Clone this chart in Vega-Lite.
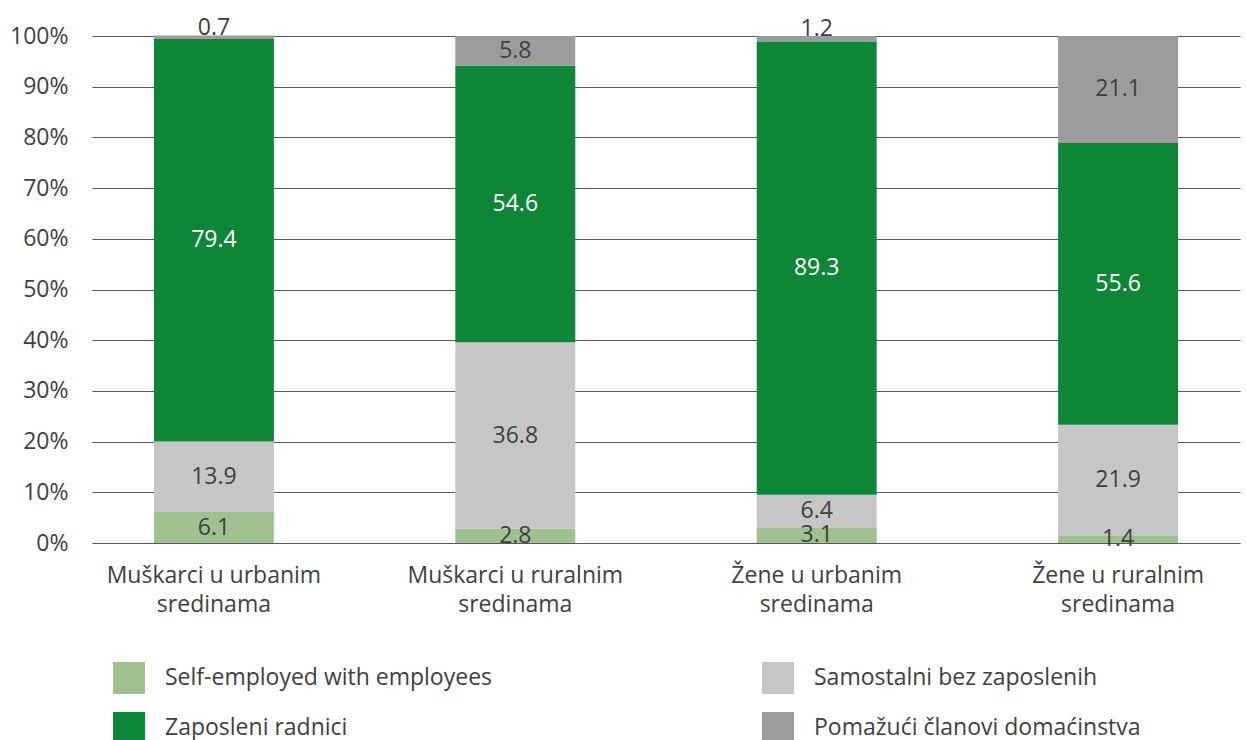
{
  "$schema": "https://vega.github.io/schema/vega-lite/v6.json",
  "width": 1148,
  "height": 507,
  "autosize": {"type": "none"},
  "padding": {"left": 92, "top": 36, "right": 6, "bottom": 197},
  "config": {"font": "Open Sans", "view": {"stroke": null}},
  "data": {
    "values": [
      {"group": "Muškarci u urbanim sredinama", "type": "Self-employed with employees", "value": 6.1},
      {"group": "Muškarci u urbanim sredinama", "type": "Samostalni bez zaposlenih", "value": 13.9},
      {"group": "Muškarci u urbanim sredinama", "type": "Zaposleni radnici", "value": 79.4},
      {"group": "Muškarci u urbanim sredinama", "type": "Pomažući članovi domaćinstva", "value": 0.7},
      {"group": "Muškarci u ruralnim sredinama", "type": "Self-employed with employees", "value": 2.8},
      {"group": "Muškarci u ruralnim sredinama", "type": "Samostalni bez zaposlenih", "value": 36.8},
      {"group": "Muškarci u ruralnim sredinama", "type": "Zaposleni radnici", "value": 54.6},
      {"group": "Muškarci u ruralnim sredinama", "type": "Pomažući članovi domaćinstva", "value": 5.8},
      {"group": "Žene u urbanim sredinama", "type": "Self-employed with employees", "value": 3.1},
      {"group": "Žene u urbanim sredinama", "type": "Samostalni bez zaposlenih", "value": 6.4},
      {"group": "Žene u urbanim sredinama", "type": "Zaposleni radnici", "value": 89.3},
      {"group": "Žene u urbanim sredinama", "type": "Pomažući članovi domaćinstva", "value": 1.2},
      {"group": "Žene u ruralnim sredinama", "type": "Self-employed with employees", "value": 1.4},
      {"group": "Žene u ruralnim sredinama", "type": "Samostalni bez zaposlenih", "value": 21.9},
      {"group": "Žene u ruralnim sredinama", "type": "Zaposleni radnici", "value": 55.6},
      {"group": "Žene u ruralnim sredinama", "type": "Pomažući članovi domaćinstva", "value": 21.1}
    ]
  },
  "transform": [
    {"calculate": "indexof(['Self-employed with employees','Samostalni bez zaposlenih','Zaposleni radnici','Pomažući članovi domaćinstva'], datum.type)", "as": "ord"},
    {"stack": "value", "groupby": ["group"], "sort": [{"field": "ord", "order": "ascending"}], "as": ["y0", "y1"]},
    {"calculate": "(datum.y0 + datum.y1) / 2", "as": "ymid"}
  ],
  "encoding": {
    "x": {
      "field": "group",
      "type": "nominal",
      "sort": null,
      "scale": {"paddingInner": 0.602, "paddingOuter": 0.2055},
      "axis": {
        "title": null,
        "labelAngle": 0,
        "labelFontSize": 23,
        "labelColor": "#404040",
        "labelLineHeight": 29,
        "labelPadding": 21,
        "labelLimit": 400,
        "domain": false,
        "ticks": false,
        "tickSize": 0,
        "labelExpr": "[replace(datum.label, ' sredinama', ''), 'sredinama']"
      }
    }
  },
  "layer": [
    {
      "mark": {"type": "bar"},
      "encoding": {
        "y": {
          "field": "y0",
          "type": "quantitative",
          "scale": {"domain": [0, 100], "nice": false},
          "axis": {
            "title": null,
            "values": [0, 10, 20, 30, 40, 50, 60, 70, 80, 90, 100],
            "labelExpr": "datum.value + '%'",
            "grid": true,
            "gridColor": "#595959",
            "gridWidth": 1.2,
            "domain": false,
            "ticks": false,
            "tickSize": 0,
            "labelFontSize": 23,
            "labelColor": "#404040",
            "labelPadding": 24
          }
        },
        "y2": {"field": "y1"},
        "color": {
          "field": "type",
          "type": "nominal",
          "scale": {
            "domain": ["Self-employed with employees", "Zaposleni radnici", "Samostalni bez zaposlenih", "Pomažući članovi domaćinstva"],
            "range": ["#9FC08F", "#0E8637", "#C6C6C6", "#9C9C9C"]
          },
          "legend": {
            "title": null,
            "orient": "none",
            "legendX": 21,
            "legendY": 626,
            "columns": 2,
            "symbolType": "square",
            "symbolSize": 1024,
            "symbolStrokeWidth": 0,
            "labelFontSize": 23,
            "labelColor": "#404040",
            "labelOffset": 20,
            "labelLimit": 600,
            "rowPadding": 18,
            "columnPadding": 269,
            "padding": 0
          }
        }
      }
    },
    {
      "transform": [{"filter": "datum.type != 'Pomažući članovi domaćinstva' || datum.value >= 2"}],
      "mark": {"type": "text", "fontSize": 23, "baseline": "middle", "align": "center"},
      "encoding": {
        "y": {"field": "ymid", "type": "quantitative"},
        "text": {"field": "value", "type": "quantitative", "format": ".1f"},
        "color": {"condition": {"test": "datum.type == 'Zaposleni radnici'", "value": "white"}, "value": "#404040"}
      }
    },
    {
      "transform": [{"filter": "datum.type == 'Pomažući članovi domaćinstva' && datum.value < 2"}],
      "mark": {"type": "text", "fontSize": 23, "baseline": "alphabetic", "align": "center", "dy": 0},
      "encoding": {
        "y": {"field": "y1", "type": "quantitative"},
        "text": {"field": "value", "type": "quantitative", "format": ".1f"},
        "color": {"value": "#404040"}
      }
    }
  ]
}
